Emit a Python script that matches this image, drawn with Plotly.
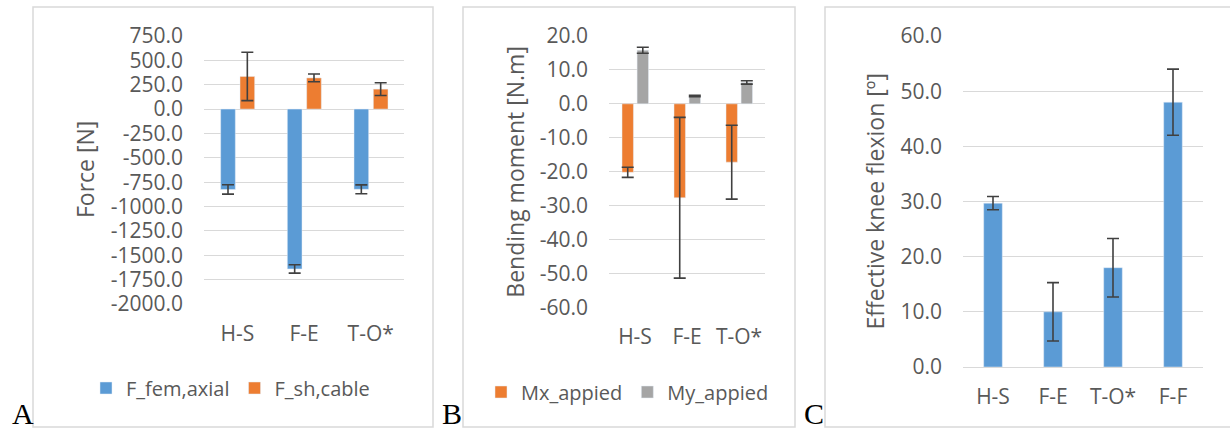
import plotly.graph_objects as go

# ---------------- data ----------------
cats_ab = ["H-S", "F-E", "T-O*"]
cats_c = ["H-S", "F-E", "T-O*", "F-F"]

f_fem_axial = [-825, -1640, -823]
f_fem_axial_err = [48, 43, 45]
f_sh_cable = [335, 320, 205]
f_sh_cable_err = [248, 40, 65]

mx_applied = [-20.2, -27.7, -17.2]
mx_applied_err = [1.5, 23.7, 10.9]
my_applied = [15.8, 2.3, 6.3]
my_applied_err = [0.9, 0.2, 0.5]

knee_flexion = [29.7, 10.0, 18.0, 48.0]
knee_flexion_err = [1.2, 5.3, 5.3, 6.0]

ticks_a = [750, 500, 250, 0, -250, -500, -750, -1000, -1250, -1500, -1750, -2000]
ticks_b = [20, 10, 0, -10, -20, -30, -40, -50, -60]
ticks_c = [0, 10, 20, 30, 40, 50, 60]

# ---------------- styling ----------------
W, H = 1230, 431
BLUE, ORANGE, GRAY = "#5B9BD5", "#ED7D31", "#A5A5A5"
TXT = "#595959"
GRID = "#D9D9D9"
ERR = "#404040"
FONT = "Open Sans"


def px_x(x):
    return x / W


def px_y(y):
    return 1 - y / H


def err(arr):
    return dict(type="data", array=arr, visible=True, color=ERR, thickness=1.6, width=6)


fig = go.Figure()

# Panel A
fig.add_trace(go.Bar(x=cats_ab, y=f_fem_axial, name="F_fem,axial", marker_color=BLUE,
                     width=0.22, offset=-0.25, error_y=err(f_fem_axial_err),
                     xaxis="x", yaxis="y", legend="legend"))
fig.add_trace(go.Bar(x=cats_ab, y=f_sh_cable, name="F_sh,cable", marker_color=ORANGE,
                     width=0.22, offset=0.04, error_y=err(f_sh_cable_err),
                     xaxis="x", yaxis="y", legend="legend"))
# Panel B
fig.add_trace(go.Bar(x=cats_ab, y=mx_applied, name="Mx_appied", marker_color=ORANGE,
                     width=0.22, offset=-0.25, error_y=err(mx_applied_err),
                     xaxis="x2", yaxis="y2", legend="legend2"))
fig.add_trace(go.Bar(x=cats_ab, y=my_applied, name="My_appied", marker_color=GRAY,
                     width=0.22, offset=0.04, error_y=err(my_applied_err),
                     xaxis="x2", yaxis="y2", legend="legend2"))
# Panel C
fig.add_trace(go.Bar(x=cats_c, y=knee_flexion, name="Effective knee flexion", marker_color=BLUE,
                     width=0.31, error_y=err(knee_flexion_err), showlegend=False,
                     xaxis="x3", yaxis="y3"))

tickfont = dict(family=FONT, size=21, color=TXT)


def xax(dom, anchor):
    return dict(domain=dom, anchor=anchor, type="category", showgrid=False, zeroline=False,
                showline=False, ticks="", tickfont=tickfont, ticklabelstandoff=15,
                fixedrange=True, automargin=False)


def yax(dom, anchor, rng, tv):
    return dict(domain=dom, anchor=anchor, range=rng, tickvals=tv,
                ticktext=[f"{v:.1f}" for v in tv], showgrid=True, gridcolor=GRID,
                gridwidth=1.3, zeroline=True, zerolinecolor=GRID, zerolinewidth=1.3,
                showline=False, ticks="", tickfont=tickfont, ticklabelstandoff=20,
                fixedrange=True, automargin=False)


ytop = px_y(36)
legfont = dict(family=FONT, size=20, color=TXT)
fig.update_layout(
    width=W, height=H, margin=dict(l=0, r=0, t=0, b=0, pad=0, autoexpand=False),
    paper_bgcolor="white", plot_bgcolor="white",
    barmode="group",
    font=dict(family=FONT, color=TXT),
    xaxis=xax([px_x(204), px_x(404)], "y"),
    yaxis=yax([px_y(304), ytop], "x", [-2000, 750], ticks_a),
    xaxis2=xax([px_x(609), px_x(765)], "y2"),
    yaxis2=yax([px_y(307.3), ytop], "x2", [-60, 20], ticks_b),
    xaxis3=xax([px_x(963), px_x(1203)], "y3"),
    yaxis3=yax([px_y(367), ytop], "x3", [0, 60], ticks_c),
    legend=dict(orientation="h", x=px_x(86), y=px_y(388), xanchor="left", yanchor="middle",
                font=legfont, bgcolor="rgba(0,0,0,0)",
                itemwidth=30, itemclick=False, itemdoubleclick=False),
    legend2=dict(orientation="h", x=px_x(481), y=px_y(392), xanchor="left", yanchor="middle",
                 font=legfont, bgcolor="rgba(0,0,0,0)",
                 itemwidth=30, itemclick=False, itemdoubleclick=False),
)

# panel borders
for x0, x1 in [(33, 433), (463, 795), (825, 1232)]:
    fig.add_shape(type="rect", xref="paper", yref="paper",
                  x0=px_x(x0), x1=px_x(x1), y0=px_y(427), y1=px_y(7),
                  line=dict(color=GRID, width=1.5), fillcolor="rgba(0,0,0,0)", layer="below")

# y-axis titles
for xc, yc, t in [(85, 170, "Force [N]"), (515, 171.7, "Bending moment [N.m]"),
                  (875, 201.5, "Effective knee flexion [º]")]:
    fig.add_annotation(text=t, xref="paper", yref="paper", x=px_x(xc), y=px_y(yc),
                       xanchor="center", yanchor="middle", textangle=-90, showarrow=False,
                       font=dict(family=FONT, size=23, color=TXT))

# panel letters
for xc, t in [(22.5, "A"), (451.5, "B"), (813.5, "C")]:
    fig.add_annotation(text=t, xref="paper", yref="paper", x=px_x(xc), y=0,
                       xanchor="center", yanchor="bottom", showarrow=False, borderpad=0,
                       font=dict(family="Liberation Serif", size=30, color="black"))

fig.write_html("out.html", config={"displayModeBar": False},
               post_script="document.body.style.margin='0';document.body.style.padding='0';")
